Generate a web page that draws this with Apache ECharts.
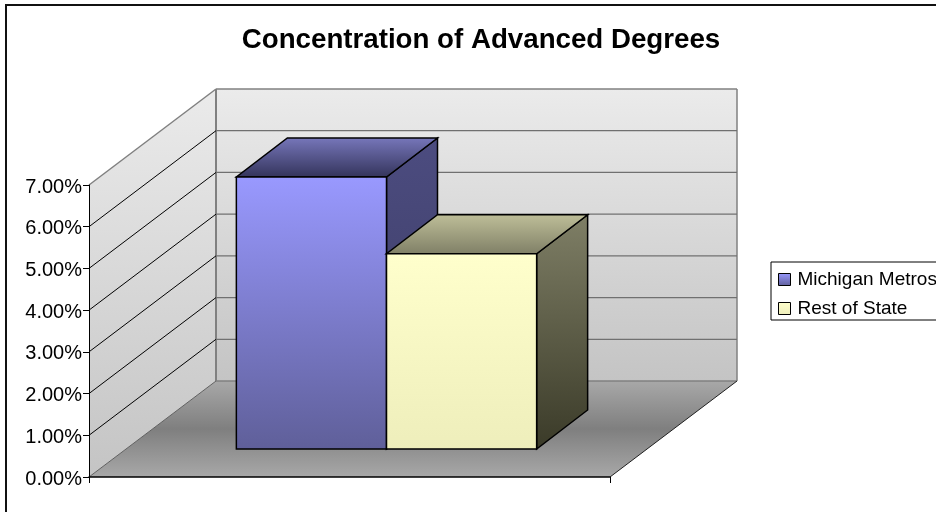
<!DOCTYPE html>
<html>
<head>
<meta charset="utf-8">
<style>
html, body { margin: 0; padding: 0; background: #fff; }
#chart { width: 936px; height: 512px; }
</style>
<script src="https://cdn.jsdelivr.net/npm/echarts@6/dist/echarts.min.js"></script>
</head>
<body>
<div id="chart"></div>
<script>
const categories = ["Advanced Degrees"];
const seriesNames = ["Michigan Metros", "Rest of State"];
const metros = [6.52];
const restOfState = [4.68];
const wallTicks = [1, 2, 3, 4, 5, 6];

// fake 3d: pixel shift from front plane to back wall / bar depth
const DEPTH = [127, -96];
const BAR_START = [37, -28];
const BAR_DEPTH = [51, -39];
const GAP_WIDTH = 1.47;

const grad = (stops) => new echarts.graphic.LinearGradient(0, 0, 0, 1,
  stops.map((c, i) => ({ offset: i / (stops.length - 1), color: c })));

const poly = (points, fill, stroke, lineWidth) => ({
  type: "polygon",
  shape: { points },
  style: { fill, stroke: stroke || "none", lineWidth: lineWidth || 0 },
});
const line = (a, b, stroke, lineWidth) => ({
  type: "line",
  shape: { x1: a[0], y1: a[1], x2: b[0], y2: b[1] },
  style: { stroke, lineWidth },
});
const shift = (p, d) => [p[0] + d[0], p[1] + d[1]];

function renderWalls(params, api) {
  const halfBand = api.size([1, 0])[0] / 2;
  const c = api.coord([0, 0]);
  const t = api.coord([0, api.value(0)]);
  const bl = [c[0] - halfBand, c[1]], br = [c[0] + halfBand, c[1]];
  const tl = [bl[0], t[1]];
  const wallFill = () => grad(["#ebebeb", "#c4c4c4"]);
  return {
    type: "group",
    children: [
      poly([shift(tl, DEPTH), shift([br[0], tl[1]], DEPTH), shift(br, DEPTH), shift(bl, DEPTH)], wallFill()),
      poly([tl, shift(tl, DEPTH), shift(bl, DEPTH), bl], wallFill()),
      poly([bl, shift(bl, DEPTH), shift(br, DEPTH), br], grad(["#a8a8a8", "#7f7f7f", "#a8a8a8"])),
      line(tl, shift(tl, DEPTH), "#808080", 1.5),
      line(shift(tl, DEPTH), shift([br[0], tl[1]], DEPTH), "#808080", 1.5),
      line(shift(tl, DEPTH), shift(bl, DEPTH), "#808080", 2),
      line(shift([br[0], tl[1]], DEPTH), shift(br, DEPTH), "#808080", 1.5),
      line(shift(bl, DEPTH), shift(br, DEPTH), "#808080", 1.5),
      line(bl, shift(bl, DEPTH), "#606060", 1),
      line(br, shift(br, DEPTH), "#202020", 1),
    ],
  };
}

function renderGridline(params, api) {
  const halfBand = api.size([1, 0])[0] / 2;
  const p = api.coord([0, api.value(0)]);
  const l = [p[0] - halfBand, p[1]], r = [p[0] + halfBand, p[1]];
  return {
    type: "group",
    children: [
      line(shift(l, DEPTH), shift(r, DEPTH), "#707070", 1.2),
      line(l, shift(l, DEPTH), "#000", 1),
    ],
  };
}

function barRenderer(index, colors) {
  return function (params, api) {
    const band = api.size([1, 0])[0];
    const w = band / (seriesNames.length + GAP_WIDTH);
    const base = api.coord([api.value(0), 0]);
    const top = api.coord([api.value(0), api.value(1)]);
    const x0 = base[0] + w * (index - seriesNames.length / 2);
    const fbl = shift([x0, base[1]], BAR_START), fbr = shift([x0 + w, base[1]], BAR_START);
    const ftl = shift([x0, top[1]], BAR_START), ftr = shift([x0 + w, top[1]], BAR_START);
    return {
      type: "group",
      children: [
        poly([ftr, shift(ftr, BAR_DEPTH), shift(fbr, BAR_DEPTH), fbr], grad(colors.side), "#000", 1.5),
        poly([ftl, ftr, shift(ftr, BAR_DEPTH), shift(ftl, BAR_DEPTH)], grad(colors.top), "#000", 1.5),
        poly([ftl, ftr, fbr, fbl], grad(colors.front), "#000", 1.5),
      ],
    };
  };
}

const chart = echarts.init(document.getElementById("chart"), null, { renderer: "canvas" });
chart.setOption({
  animation: false,
  backgroundColor: "#fff",
  textStyle: { fontFamily: "Liberation Sans" },
  title: {
    text: "Concentration of Advanced Degrees",
    left: 476, top: 21, textAlign: "center",
    textStyle: { fontFamily: "Liberation Sans", fontSize: 27.7, fontWeight: "bold", color: "#000" },
  },
  legend: {
    left: 771, top: 262, orient: "vertical", padding: [8, 12, 2, 7], itemGap: 10,
    itemWidth: 12, itemHeight: 12, icon: "rect",
    borderColor: "#000", borderWidth: 1, backgroundColor: "#fff",
    textStyle: { fontFamily: "Liberation Sans", fontSize: 19, color: "#000", padding: [0, 0, 0, 2] },
    data: [
      { name: seriesNames[0], itemStyle: { color: grad(["#9999ff", "#5f5f99"]), borderColor: "#000", borderWidth: 1 } },
      { name: seriesNames[1], itemStyle: { color: grad(["#ffffcc", "#eeeebb"]), borderColor: "#000", borderWidth: 1 } },
    ],
  },
  grid: { left: 89, right: 326, top: 185, bottom: 35 },
  xAxis: {
    type: "category", data: categories, z: 5,
    axisLabel: { show: false },
    axisLine: { lineStyle: { color: "#000", width: 1.5 } },
    axisTick: { show: true, length: 6, lineStyle: { color: "#000" } },
  },
  yAxis: {
    type: "value", min: 0, max: 7, interval: 1, z: 5,
    splitLine: { show: false },
    axisLine: { show: true, lineStyle: { color: "#000", width: 1 } },
    axisTick: { show: true, length: 6, lineStyle: { color: "#000" } },
    axisLabel: { formatter: (v) => v.toFixed(2) + "%", fontFamily: "Liberation Sans", fontSize: 20, color: "#000", margin: 7, verticalAlign: "top", lineHeight: 4 },
  },
  series: [
    { type: "custom", name: "walls", z: 1, silent: true, data: [[7]], encode: { y: 0 }, renderItem: renderWalls },
    { type: "custom", name: "grid", z: 1, silent: true, data: wallTicks.map((v) => [v]), encode: { y: 0 }, renderItem: renderGridline },
    {
      type: "custom", name: seriesNames[0], z: 2,
      data: metros.map((v, i) => [i, v]), encode: { x: 0, y: 1 },
      renderItem: barRenderer(0, {
        front: ["#9999ff", "#5f5f99"], top: ["#7777bb", "#33335a"], side: ["#4c4c80", "#3a3a60"],
      }),
    },
    {
      type: "custom", name: seriesNames[1], z: 3,
      data: restOfState.map((v, i) => [i, v]), encode: { x: 0, y: 1 },
      renderItem: barRenderer(1, {
        front: ["#ffffcc", "#eeeebb"], top: ["#bfbf99", "#7f7f66"], side: ["#7f7f66", "#3a3a28"],
      }),
    },
  ],
  graphic: [{
    type: "polyline", silent: true, z: 10,
    shape: { points: [[6, 512], [6, 5], [936, 5]] },
    style: { stroke: "#111", lineWidth: 2, fill: "none" },
  }],
});
</script>
</body>
</html>
